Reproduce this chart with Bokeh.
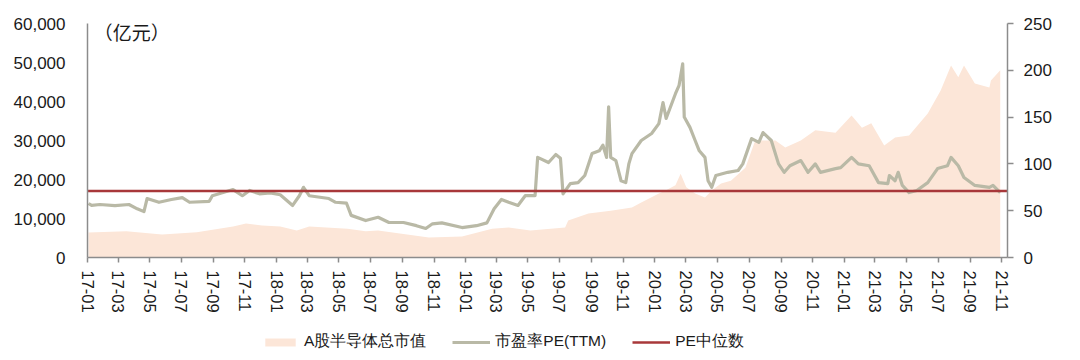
import pandas as pd
from bokeh.plotting import figure
from bokeh.layouts import column
from bokeh.models import (Range1d, LinearAxis, FixedTicker, NumeralTickFormatter,
                          Legend, LegendItem, Label)
from bokeh.embed import file_html
from bokeh.resources import INLINE

# ---------------- data ----------------
cap_dates = ["2017-01-03", "2017-03-17", "2017-05-25", "2017-07-31", "2017-10-09", "2017-11-03",
             "2017-12-04", "2018-01-08", "2018-02-09", "2018-03-05", "2018-05-18", "2018-06-22",
             "2018-07-16", "2018-10-22", "2018-12-25", "2019-02-21", "2019-03-25", "2019-05-06",
             "2019-07-12", "2019-07-18", "2019-08-26", "2019-10-08", "2019-11-18", "2019-12-06",
             "2020-01-09", "2020-01-22", "2020-02-10", "2020-02-20", "2020-03-02", "2020-03-19",
             "2020-04-07", "2020-04-20", "2020-05-08", "2020-05-27", "2020-06-24", "2020-07-13",
             "2020-08-21", "2020-09-09", "2020-10-09", "2020-11-06", "2020-12-15", "2021-01-15",
             "2021-02-04", "2021-02-22", "2021-03-19", "2021-04-09", "2021-05-06", "2021-06-11",
             "2021-07-06", "2021-07-26", "2021-08-09", "2021-08-20", "2021-09-10", "2021-10-08",
             "2021-10-11", "2021-10-29"]
cap_values = [6400, 6700, 5900, 6500, 7950, 8700,
              8200, 7950, 6900, 7950, 7400, 6700,
              6900, 5100, 5400, 7400, 7700, 6900,
              7700, 9500, 11300, 12000, 12800, 14100,
              16400, 17200, 18500, 21500, 18000, 16400,
              15400, 17200, 19000, 19700, 23000, 30000,
              30000, 28200, 30000, 32600, 32000, 36400,
              33300, 34400, 28700, 30800, 31300, 36900,
              42800, 49200, 46200, 49200, 44600, 43600,
              45400, 48000]

pe_dates = ["2017-01-03", "2017-01-09", "2017-01-25", "2017-02-23", "2017-03-22", "2017-04-07",
            "2017-04-20", "2017-04-26", "2017-05-19", "2017-06-12", "2017-07-03", "2017-07-17",
            "2017-08-24", "2017-08-30", "2017-10-09", "2017-10-27", "2017-11-10", "2017-11-29",
            "2017-12-20", "2018-01-08", "2018-02-01", "2018-02-14", "2018-02-22", "2018-03-05",
            "2018-04-12", "2018-04-25", "2018-05-16", "2018-05-25", "2018-06-22", "2018-07-16",
            "2018-08-06", "2018-09-03", "2018-09-28", "2018-10-16", "2018-10-29", "2018-11-16",
            "2018-12-25", "2019-01-22", "2019-02-11", "2019-02-25", "2019-03-11", "2019-03-25",
            "2019-04-12", "2019-04-26", "2019-05-15", "2019-05-20", "2019-06-10", "2019-06-24",
            "2019-07-03", "2019-07-08", "2019-07-22", "2019-08-06", "2019-08-19", "2019-09-02",
            "2019-09-16", "2019-09-23", "2019-09-30", "2019-10-04", "2019-10-08", "2019-10-18",
            "2019-10-28", "2019-11-06", "2019-11-12", "2019-11-18", "2019-12-06", "2019-12-26",
            "2020-01-09", "2020-01-17", "2020-01-23", "2020-02-10", "2020-02-17", "2020-02-24",
            "2020-02-27", "2020-03-09", "2020-03-19", "2020-03-27", "2020-04-07", "2020-04-13",
            "2020-04-20", "2020-04-28", "2020-05-21", "2020-06-10", "2020-06-19", "2020-07-06",
            "2020-07-20", "2020-07-28", "2020-08-13", "2020-08-27", "2020-09-07", "2020-09-18",
            "2020-10-09", "2020-10-23", "2020-11-06", "2020-11-16", "2020-12-15", "2020-12-25",
            "2021-01-15", "2021-01-28", "2021-02-18", "2021-03-08", "2021-03-26", "2021-03-29",
            "2021-04-09", "2021-04-15", "2021-04-23", "2021-05-06", "2021-05-21", "2021-06-11",
            "2021-06-30", "2021-07-19", "2021-07-26", "2021-08-09", "2021-08-20", "2021-09-10",
            "2021-10-08", "2021-10-15", "2021-10-29"]
pe_values = [57.7, 55.6, 56.6, 55.5, 56.6, 52,
             49, 63, 59, 62, 64, 59,
             60, 66, 72.6, 66, 71.6, 68,
             69, 67, 55.6, 66, 75, 66,
             63, 59, 58, 45, 39.5, 43,
             37.4, 37.4, 34, 31, 36, 37,
             32, 34, 37, 52, 62, 59,
             55.6, 66, 66, 107, 101.5, 110,
             106, 68, 79, 80, 87.6, 111,
             114, 120, 107, 161, 107, 103.6,
             82, 80, 100, 111, 125, 132.5,
             143, 165.6, 148.5, 175, 184, 207,
             150, 139, 125, 114, 107, 82,
             75, 87.6, 91, 93, 100, 127,
             123, 133.5, 125, 100, 91, 98,
             103.6, 91, 100, 91, 95, 96,
             107, 100, 98, 80, 79, 87.6,
             82, 91, 77, 69.4, 71.6, 80,
             95, 98, 107, 98, 85.5, 77,
             75, 77, 69.4]

pe_median = 71

tick_labels = ["17-01", "17-03", "17-05", "17-07", "17-09", "17-11",
               "18-01", "18-03", "18-05", "18-07", "18-09", "18-11",
               "19-01", "19-03", "19-05", "19-07", "19-09", "19-11",
               "20-01", "20-03", "20-05", "20-07", "20-09", "20-11",
               "21-01", "21-03", "21-05", "21-07", "21-09", "21-11"]

left_ticks = [0, 10000, 20000, 30000, 40000, 50000, 60000]
right_ticks = [0, 50, 100, 150, 200, 250]

legend_labels = ["A股半导体总市值", "市盈率PE(TTM)", "PE中位数"]
unit_text = "（亿元）"

# ---------------- styling ----------------
AREA_C = "#FCE6D8"
PE_C = "#B9B9A6"
MED_C = "#A8383A"
AX_C = "#8C8C8C"
FONT = "Liberation Sans"
CJK = "Noto Sans CJK SC"
TXT_C = "#1a1a1a"

x_start = pd.Timestamp("2017-01-01")
x_end = pd.Timestamp("2021-11-12")

MAIN_H = 322
LEG_H = 38

p = figure(width=1080, height=MAIN_H, x_axis_type="datetime",
           x_range=Range1d(x_start, x_end), y_range=Range1d(0, 60000),
           output_backend="svg", toolbar_location=None,
           min_border_left=87, min_border_right=73, min_border_top=23, min_border_bottom=65)
p.extra_y_ranges = {"pe": Range1d(0, 250)}
p.outline_line_color = None
p.xgrid.visible = False
p.ygrid.visible = False

cap_x = pd.to_datetime(cap_dates)
pe_x = pd.to_datetime(pe_dates)

area_style = dict(fill_color=AREA_C, fill_alpha=1.0)
pe_style = dict(line_color=PE_C, line_width=3.2, line_join="round")
med_style = dict(line_color=MED_C, line_width=2.4)

p.varea(x=cap_x, y1=0, y2=cap_values, **area_style)
p.line(x=pe_x, y=pe_values, y_range_name="pe", **pe_style)
p.line(x=[x_start, x_end], y=[pe_median, pe_median], y_range_name="pe", **med_style)

# left axis
ly = p.yaxis[0]
ly.ticker = FixedTicker(ticks=left_ticks)
ly.formatter = NumeralTickFormatter(format="0,0")
ly.major_tick_out = 0
ly.major_tick_in = 0
ly.minor_tick_out = 0
ly.minor_tick_in = 0
ly.major_label_standoff = 22
ly.axis_line_color = AX_C
ly.axis_line_width = 1.5
ly.major_label_text_font = FONT
ly.major_label_text_font_size = "17px"
ly.major_label_text_color = TXT_C

# right axis
ry = LinearAxis(y_range_name="pe", ticker=FixedTicker(ticks=right_ticks))
ry.major_tick_out = 6
ry.major_tick_in = 0
ry.minor_tick_out = 0
ry.minor_tick_in = 0
ry.major_tick_line_color = AX_C
ry.major_tick_line_width = 1.5
ry.major_label_standoff = 10
ry.axis_line_color = AX_C
ry.axis_line_width = 1.5
ry.major_label_text_font = FONT
ry.major_label_text_font_size = "17px"
ry.major_label_text_color = TXT_C
p.add_layout(ry, "right")

# bottom axis
tick_ts = [pd.Timestamp("20" + t + "-01") for t in tick_labels]
tick_ms = [int(t.value // 10**6) for t in tick_ts]
xa = p.xaxis[0]
xa.ticker = FixedTicker(ticks=tick_ms)
xa.major_label_overrides = {m: l for m, l in zip(tick_ms, tick_labels)}
xa.major_label_orientation = "vertical"
xa.major_tick_out = 5
xa.major_tick_in = 0
xa.minor_tick_out = 0
xa.minor_tick_in = 0
xa.major_tick_line_color = AX_C
xa.major_tick_line_width = 1.5
xa.axis_line_color = AX_C
xa.axis_line_width = 1.5
xa.major_label_standoff = 8
xa.major_label_text_font = FONT
xa.major_label_text_font_size = "16.5px"
xa.major_label_text_color = TXT_C

# unit label
p.add_layout(Label(x=pd.Timestamp("2017-01-13"), y=57950, text=unit_text,
                   text_font=CJK, text_font_size="19px", text_color=TXT_C,
                   text_baseline="middle"))

# ---------------- legend strip (frame aligned with main frame by column) ----------------
lg = figure(width=1080, height=LEG_H, x_range=Range1d(0, 1), y_range=Range1d(0, 1),
            x_axis_type=None, y_axis_type=None, output_backend="svg", toolbar_location=None,
            min_border=0)
lg.outline_line_color = None
lg.xgrid.visible = False
lg.ygrid.visible = False
# legend-only renderers, kept outside the visible range
r_area = lg.varea(x=[5, 6], y1=[0, 0], y2=[1, 1], **area_style)
r_pe = lg.line(x=[5, 6], y=[0.5, 0.5], **pe_style)
r_med = lg.line(x=[5, 6], y=[0.5, 0.5], **med_style)

legend = Legend(items=[LegendItem(label=legend_labels[0], renderers=[r_area]),
                       LegendItem(label=legend_labels[1], renderers=[r_pe]),
                       LegendItem(label=legend_labels[2], renderers=[r_med])],
                orientation="horizontal", location=(174, 8),
                label_text_font=FONT, label_text_font_size="15.5px", label_text_color=TXT_C,
                glyph_width=38, glyph_height=10, spacing=26, label_standoff=5,
                border_line_color=None, background_fill_alpha=0, padding=2, margin=0)
lg.add_layout(legend, "center")

layout = column(p, lg, spacing=0)
open("out.html", "w").write(file_html(layout, INLINE))
